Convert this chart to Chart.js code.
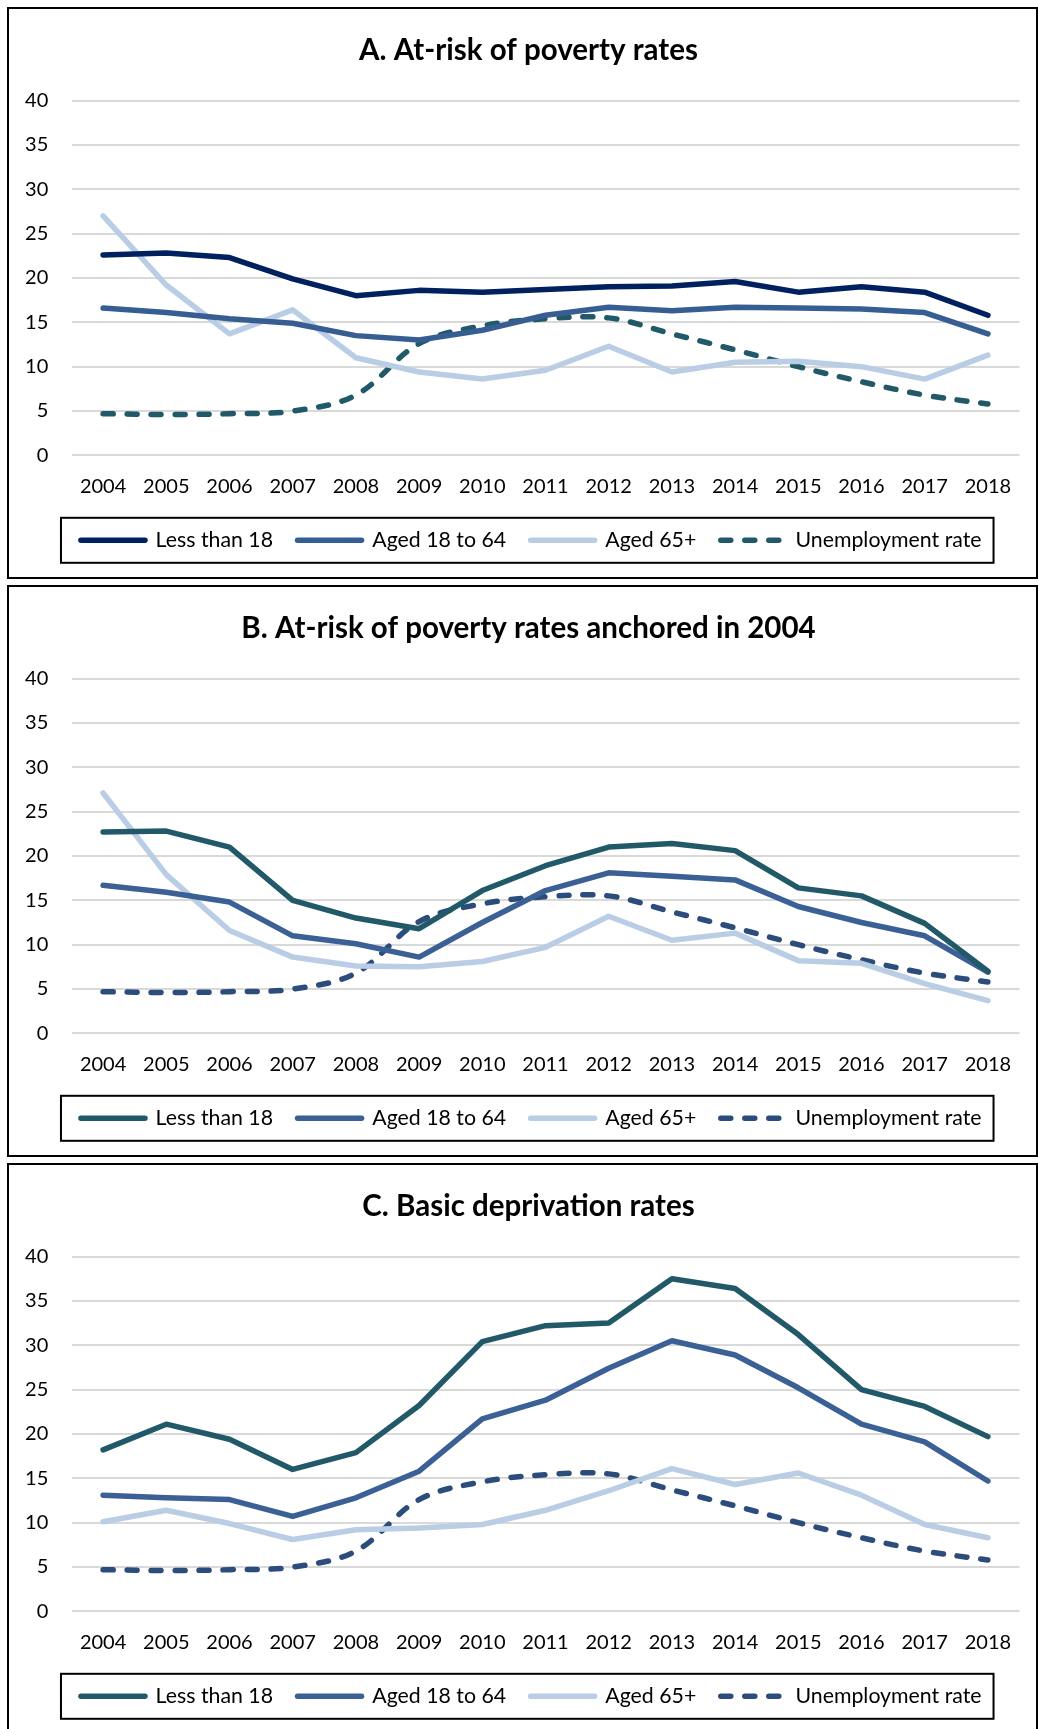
<!DOCTYPE html>
<html>
<head>
<meta charset="utf-8">
<script src="https://cdn.jsdelivr.net/npm/chart.js@4.4.1/dist/chart.umd.min.js"></script>
<style>
html, body { margin: 0; padding: 0; background: #fff; overflow: hidden; width: 1038px; height: 1729px; }
.panel { position: absolute; left: 7px; width: 1027px; height: 568px; border: 2px solid #000; background: #fff; }
canvas { display: block; }
</style>
</head>
<body>
<div class="panel" style="top:7px"><canvas id="chartA" width="1027" height="568"></canvas></div>
<div class="panel" style="top:585px"><canvas id="chartB" width="1027" height="568"></canvas></div>
<div class="panel" style="top:1163px"><canvas id="chartC" width="1027" height="568"></canvas></div>
<script>
// ---- Data ----
const years = ['2004','2005','2006','2007','2008','2009','2010','2011','2012','2013','2014','2015','2016','2017','2018'];
const seriesLabels = ['Less than 18', 'Aged 18 to 64', 'Aged 65+', 'Unemployment rate'];
const yTicks = [0, 5, 10, 15, 20, 25, 30, 35, 40];

const titleA = 'A. At-risk of poverty rates';
const titleB = 'B. At-risk of poverty rates anchored in 2004';
const titleC = 'C. Basic deprivation rates';

const unemployment = [4.7, 4.6, 4.7, 5.0, 6.8, 12.6, 14.6, 15.4, 15.5, 13.7, 11.9, 10.0, 8.3, 6.8, 5.8];

const aLess18  = [22.6, 22.8, 22.3, 19.9, 18.0, 18.6, 18.4, 18.7, 19.0, 19.1, 19.6, 18.4, 19.0, 18.4, 15.8];
const a18to64  = [16.6, 16.1, 15.4, 14.9, 13.5, 13.0, 14.1, 15.8, 16.7, 16.3, 16.7, 16.6, 16.5, 16.1, 13.7];
const a65plus  = [27.0, 19.2, 13.7, 16.4, 11.0, 9.4, 8.6, 9.6, 12.3, 9.4, 10.5, 10.6, 10.0, 8.6, 11.3];

const bLess18  = [22.7, 22.8, 21.0, 15.0, 13.0, 11.8, 16.1, 18.9, 21.0, 21.4, 20.6, 16.4, 15.5, 12.4, 7.0];
const b18to64  = [16.7, 15.9, 14.8, 11.0, 10.1, 8.6, 12.5, 16.1, 18.1, 17.7, 17.3, 14.3, 12.5, 11.0, 6.9];
const b65plus  = [27.1, 17.9, 11.6, 8.6, 7.6, 7.5, 8.1, 9.7, 13.2, 10.5, 11.3, 8.2, 7.9, 5.6, 3.7];

const cLess18  = [18.2, 21.1, 19.4, 16.0, 17.9, 23.2, 30.4, 32.2, 32.5, 37.5, 36.4, 31.2, 25.0, 23.1, 19.7];
const c18to64  = [13.1, 12.8, 12.6, 10.7, 12.8, 15.8, 21.7, 23.8, 27.4, 30.5, 28.9, 25.2, 21.1, 19.1, 14.7];
const c65plus  = [10.1, 11.4, 9.9, 8.1, 9.2, 9.4, 9.8, 11.4, 13.6, 16.1, 14.3, 15.6, 13.1, 9.8, 8.3];

// ---- Styles ----
const colorsA = ['#002060', '#375e93', '#b9cde5', '#215968'];
const colorsBC = ['#215968', '#3a6096', '#b9cde5', '#2c4c7b'];
const FONT = 'Lato, "Open Sans", "DejaVu Sans", sans-serif';

// Border round the legend, sized from the legend's own hit boxes
const legendBoxPlugin = {
  id: 'legendBox',
  afterDraw(chart) {
    const lg = chart.legend;
    if (!lg || !lg.legendHitBoxes || !lg.legendHitBoxes.length) return;
    const hb = lg.legendHitBoxes;
    const first = hb[0], last = hb[hb.length - 1];
    const cy = first.top + first.height / 2;
    const ctx = chart.ctx;
    ctx.save();
    ctx.strokeStyle = '#000';
    ctx.lineWidth = 2;
    ctx.setLineDash([]);
    const x0 = first.left - 20, x1 = last.left + last.width + 12;
    ctx.strokeRect(x0, cy - 22.5, x1 - x0, 45);
    ctx.restore();
  }
};

// Title and legend are centred a little right of the canvas centre in the original
const centerShiftPlugin = {
  id: 'centerShift',
  afterLayout(chart) {
    const t = chart.titleBlock, l = chart.legend;
    if (t) { t.left += 14.25; t.right += 14.25; }
    if (l) { l.left += 17; l.right += 17; }
  }
};

function lineDs(label, data, color) {
  return {
    label, data,
    borderColor: color, backgroundColor: color,
    borderWidth: 5.5, pointRadius: 0, pointHoverRadius: 0,
    borderCapStyle: 'round', borderJoinStyle: 'round',
    tension: 0, fill: false
  };
}
function dashDs(label, data, color) {
  return {
    label, data,
    borderColor: color, backgroundColor: color,
    borderWidth: 5.5, pointRadius: 0, pointHoverRadius: 0,
    borderCapStyle: 'round', borderJoinStyle: 'round',
    borderDash: [10, 14],
    tension: 0.35, fill: false
  };
}

function legendLabels(chart) {
  return chart.data.datasets.map((ds, i) => ({
    text: ds.label,
    fillStyle: ds.borderColor,
    strokeStyle: ds.borderColor,
    fontColor: '#000',
    lineWidth: ds.borderWidth,
    lineDash: ds.borderDash || [],
    lineDashOffset: 0,
    lineCap: 'round',
    lineJoin: 'round',
    pointStyle: 'line',
    rotation: 0,
    hidden: !chart.isDatasetVisible(i),
    datasetIndex: i
  }));
}

function makeChart(id, title, s1, s2, s3, colors) {
  return new Chart(document.getElementById(id), {
    type: 'line',
    data: {
      labels: years,
      datasets: [
        lineDs(seriesLabels[0], s1, colors[0]),
        lineDs(seriesLabels[1], s2, colors[1]),
        lineDs(seriesLabels[2], s3, colors[2]),
        dashDs(seriesLabels[3], unemployment, colors[3])
      ]
    },
    options: {
      responsive: false,
      animation: false,
      devicePixelRatio: 1,
      layout: { padding: { left: 0, right: 16.5, top: 0, bottom: 16.05 } },
      plugins: {
        tooltip: { enabled: false },
        title: {
          display: true, text: title, color: '#000',
          font: { family: FONT, size: 29.5, weight: 'bold', lineHeight: 1.2 },
          padding: { top: 23.6, bottom: 32.5 }
        },
        legend: {
          display: true, position: 'bottom',
          labels: {
            color: '#000',
            font: { family: FONT, size: 21.3 },
            usePointStyle: true, pointStyle: 'line', pointStyleWidth: 64,
            padding: 24.5,
            generateLabels: legendLabels
          }
        }
      },
      scales: {
        x: {
          offset: true,
          grid: { display: false, drawTicks: false },
          border: { display: false },
          ticks: { color: '#000', font: { family: FONT, size: 20 }, padding: 19.2, maxRotation: 0, autoSkip: false },
          afterFit(scale) { scale.height = 49.75; }
        },
        y: {
          min: 0, max: 40,
          afterBuildTicks(scale) { scale.ticks = yTicks.map(v => ({ value: v })); },
          grid: { color: '#d9d9d9', lineWidth: 2, drawTicks: false },
          border: { display: false },
          ticks: { color: '#000', font: { family: FONT, size: 20 }, padding: 23.2 },
          afterFit(scale) { scale.width = 62.5; }
        }
      }
    },
    plugins: [centerShiftPlugin, legendBoxPlugin]
  });
}

function drawAll() {
  makeChart('chartA', titleA, aLess18, a18to64, a65plus, colorsA);
  makeChart('chartB', titleB, bLess18, b18to64, b65plus, colorsBC);
  makeChart('chartC', titleC, cLess18, c18to64, c65plus, colorsBC);
}

let done = false;
function go() { if (!done) { done = true; drawAll(); } }
if (document.fonts && document.fonts.load) {
  Promise.all([document.fonts.load('20px Lato'), document.fonts.load('bold 29px Lato')]).then(go, go);
  setTimeout(go, 800);
} else { go(); }
</script>
</body>
</html>
